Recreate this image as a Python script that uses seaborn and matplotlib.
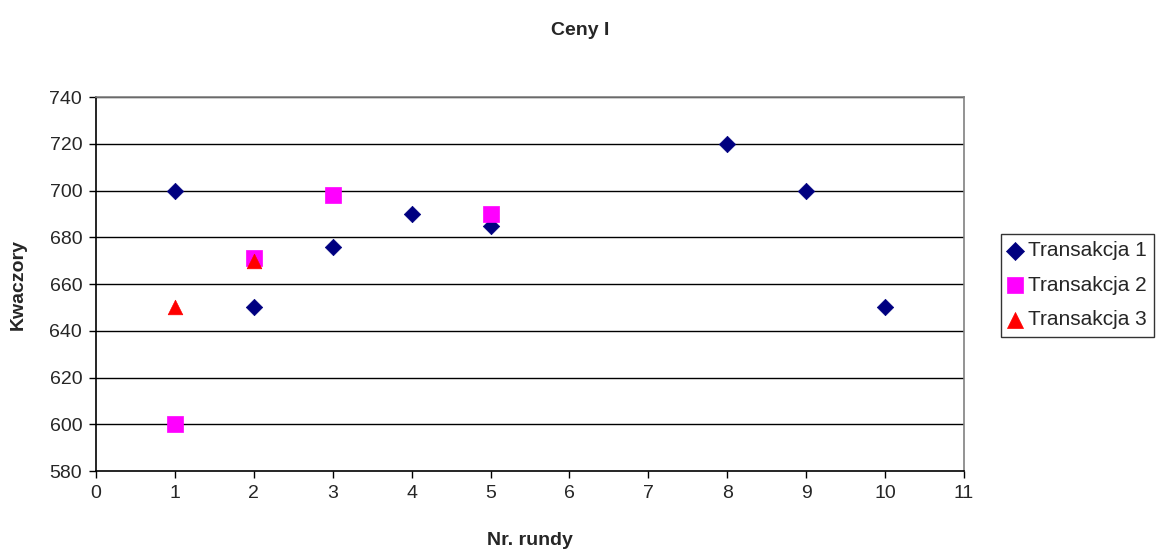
import matplotlib
matplotlib.use("Agg")
import matplotlib.pyplot as plt
import seaborn as sns
import pandas as pd

sns.set_theme(style="white")
plt.rcParams['font.family'] = ['Liberation Sans', 'DejaVu Sans']

# Data
t1_x = [1, 2, 3, 4, 5, 8, 9, 10]
t1_y = [700, 650, 676, 690, 685, 720, 700, 650]
t2_x = [1, 2, 3, 5]
t2_y = [600, 671, 698, 690]
t3_x = [1, 2]
t3_y = [650, 670]
series_names = ["Transakcja 1", "Transakcja 2", "Transakcja 3"]
x_ticks = list(range(0, 12))
y_ticks = list(range(580, 741, 20))

df = pd.concat([
    pd.DataFrame({"x": t1_x, "y": t1_y, "s": series_names[0]}),
    pd.DataFrame({"x": t2_x, "y": t2_y, "s": series_names[1]}),
    pd.DataFrame({"x": t3_x, "y": t3_y, "s": series_names[2]}),
], ignore_index=True)

fig = plt.figure(figsize=(11.61, 5.49), dpi=100)
ax = fig.add_axes([0.0827, 0.142, 0.7476, 0.6813])

palette = {series_names[0]: "#000080", series_names[1]: "#FF00FF", series_names[2]: "#FF0000"}
markers = {series_names[0]: "D", series_names[1]: "s", series_names[2]: "^"}
sizes = {series_names[0]: 70, series_names[1]: 120, series_names[2]: 110}

for name in series_names:
    sub = df[df["s"] == name]
    sns.scatterplot(data=sub, x="x", y="y", ax=ax, color=palette[name],
                    marker=markers[name], s=sizes[name], edgecolor=palette[name],
                    linewidth=0.5, label=name, zorder=3)

ax.set_xlim(0, 11)
ax.set_ylim(580, 740)
ax.set_xticks(x_ticks)
ax.set_yticks(y_ticks)
ax.tick_params(axis="both", which="major", labelsize=14, direction="out",
               length=5, width=1, color="black", bottom=True, left=True, pad=5)
for yv in y_ticks[1:]:
    ax.axhline(yv, color="black", linewidth=1, zorder=1)

for side in ["left", "bottom"]:
    ax.spines[side].set_color("black")
    ax.spines[side].set_linewidth(1.2)
for side in ["top", "right"]:
    ax.spines[side].set_color("#808080")
    ax.spines[side].set_linewidth(1.2)

ax.set_xlabel("Nr. rundy", fontsize=14, fontweight="bold", labelpad=22)
ax.set_ylabel("Kwaczory", fontsize=14, fontweight="bold", labelpad=16)
fig.text(0.5, 0.945, "Ceny I", ha="center", va="center", fontsize=14, fontweight="bold")

handles, labels = ax.get_legend_handles_labels()
if ax.legend_:
    ax.legend_.remove()
leg = fig.legend(handles, labels, loc="upper left", bbox_to_anchor=(0.8625, 0.574),
                 fontsize=15, frameon=True, fancybox=False, edgecolor="black",
                 handlelength=0.6, handletextpad=0.35, borderpad=0.35,
                 labelspacing=0.75, borderaxespad=0, markerscale=1.1)
leg.get_frame().set_linewidth(1)

fig.savefig("out.png", dpi=100)
